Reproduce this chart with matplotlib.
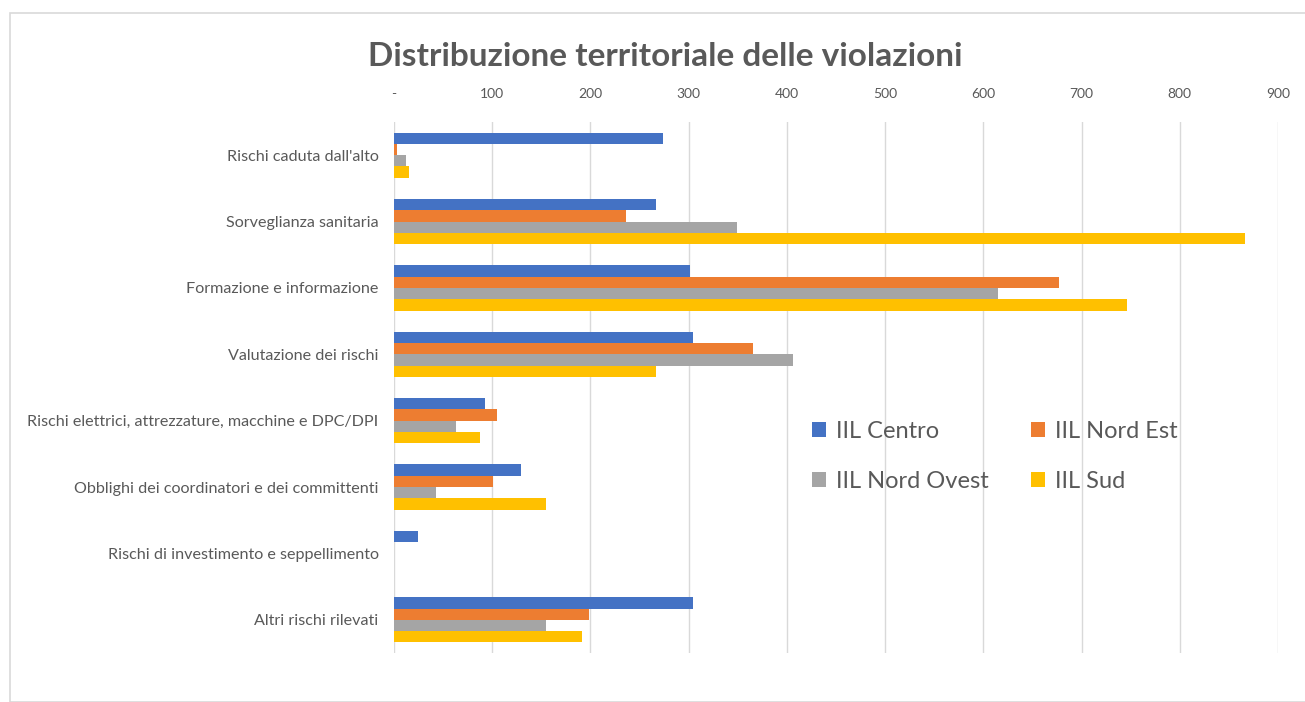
import matplotlib
matplotlib.use("Agg")
import matplotlib.pyplot as plt
from matplotlib.patches import Rectangle, Patch
import numpy as np

plt.rcParams['font.family'] = ['Lato', 'DejaVu Sans']

categories = [
    "Rischi caduta dall'alto",
    "Sorveglianza sanitaria",
    "Formazione e informazione",
    "Valutazione dei rischi",
    "Rischi elettrici, attrezzature, macchine e DPC/DPI",
    "Obblighi dei coordinatori e dei committenti",
    "Rischi di investimento e seppellimento",
    "Altri rischi rilevati",
]
series_names = ["IIL Centro", "IIL Nord Est", "IIL Nord Ovest", "IIL Sud"]
iil_centro = [274, 267, 301, 304, 93, 129, 24, 304]
iil_nord_est = [3, 236, 677, 366, 105, 101, 0, 199]
iil_nord_ovest = [12, 349, 615, 406, 63, 43, 0, 155]
iil_sud = [15, 866, 746, 267, 88, 155, 0, 191]
x_ticks = [0, 100, 200, 300, 400, 500, 600, 700, 800, 900]
x_tick_labels = ["-", "100", "200", "300", "400", "500", "600", "700", "800", "900"]

colors = ["#4472C4", "#ED7D31", "#A5A5A5", "#FFC000"]
text_grey = "#595959"

W, H = 1305, 702
fig = plt.figure(figsize=(W / 100, H / 100), dpi=100)
fig.patch.set_facecolor("white")

# outer chart border
fig.patches.append(Rectangle((10 / W, 0), 1.2, 1 - 13 / H, transform=fig.transFigure,
                             fill=False, edgecolor="#D9D9D9", linewidth=1.2))

ax_l, ax_r, ax_t, ax_b = 394, 1278, 122, 653
ax = fig.add_axes([ax_l / W, 1 - ax_b / H, (ax_r - ax_l) / W, (ax_b - ax_t) / H])

y = np.arange(len(categories))
bh = 0.17
all_series = [iil_centro, iil_nord_est, iil_nord_ovest, iil_sud]
for k, (vals, c) in enumerate(zip(all_series, colors)):
    ax.barh(y + (k - 1.5) * bh, vals, height=bh, color=c, zorder=3)

ax.set_xlim(0, 900)
ax.set_ylim(len(categories) - 0.5, -0.5)
ax.set_xticks(x_ticks)
ax.set_xticklabels(x_tick_labels)
ax.xaxis.tick_top()
ax.set_yticks(y)
ax.set_yticklabels(categories)
ax.tick_params(axis="x", length=0, pad=16, labelsize=10, labelcolor=text_grey)
ax.tick_params(axis="y", length=0, pad=11, labelsize=11.6, labelcolor=text_grey)
ax.grid(axis="x", color="#D9D9D9", linewidth=1, zorder=0)
for s in ax.spines.values():
    s.set_visible(False)

fig.text(665 / W, 1 - 57 / H, "Distribuzione territoriale delle violazioni",
         ha="center", va="center", fontsize=24, color=text_grey, fontweight="bold")

handles = [Patch(facecolor=c, edgecolor="none") for c in colors]
order = [0, 2, 1, 3]
fig.legend([handles[i] for i in order], [series_names[i] for i in order],
           loc="upper left",
           bbox_to_anchor=(791 / W, 1 - 400 / H), ncol=2, frameon=False,
           fontsize=17, labelcolor=text_grey, handlelength=0.6, handleheight=0.6,
           handletextpad=0.4, columnspacing=1.8, labelspacing=1.2)

fig.savefig("out.png", dpi=100)
